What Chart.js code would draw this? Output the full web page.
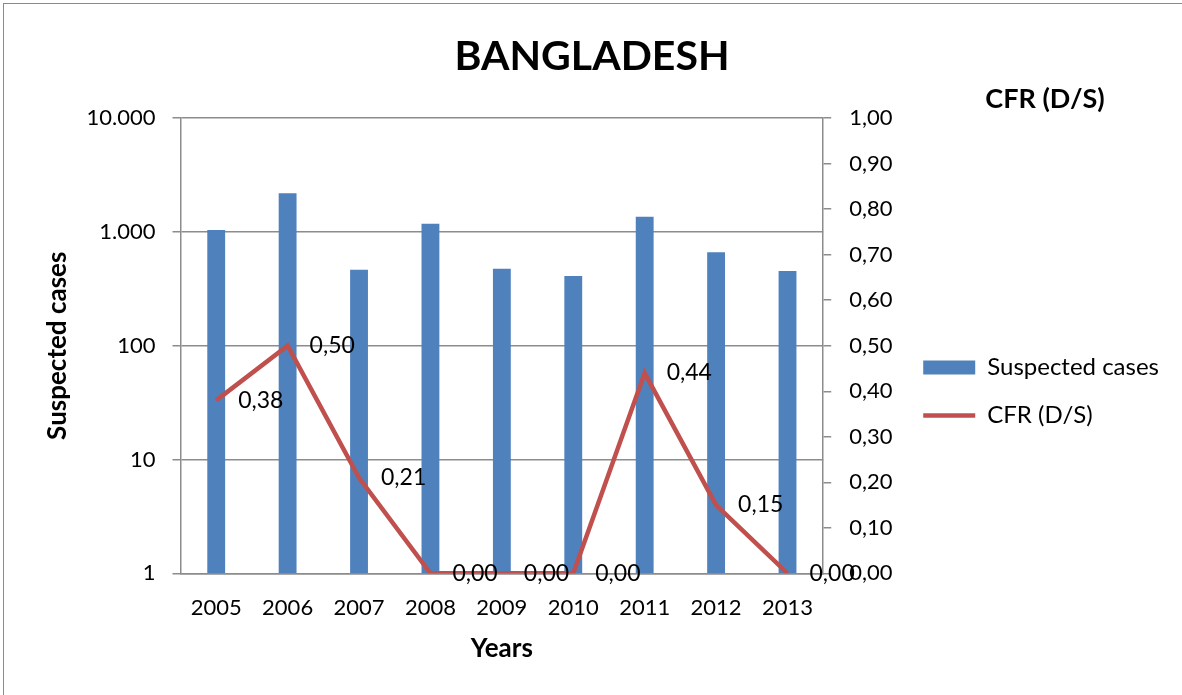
<!DOCTYPE html>
<html>
<head>
<meta charset="utf-8">
<title>Bangladesh</title>
<script src="https://cdn.jsdelivr.net/npm/chart.js@4/dist/chart.umd.min.js"></script>
<style>
    body { margin: 0; background: #fff; overflow: hidden; }
    #frame {
        position: absolute; left: 3px; top: 3px;
        width: 1200px; height: 720px;
        border: 1.5px solid #8a8a8a;
    }
    #chart { position: absolute; left: 0; top: 0; }
</style>
</head>
<body>
<div id="frame"></div>
<canvas id="chart" width="1182" height="695"></canvas>
<script>
const years = ['2005', '2006', '2007', '2008', '2009', '2010', '2011', '2012', '2013'];
const suspectedCases = [1040, 2190, 465, 1180, 475, 410, 1360, 665, 455];
const cfrValues = [0.38, 0.50, 0.21, 0.00, 0.00, 0.00, 0.44, 0.15, 0.00];
const caseTicks = [1, 10, 100, 1000, 10000];

const FONT = 'Lato, "Open Sans", sans-serif';
const GRID = '#8c8c8c';

function formatCases(v) {
    return String(v).replace(/\B(?=(\d{3})+(?!\d))/g, '.');
}

function formatRate(v) {
    return v.toFixed(2).replace('.', ',');
}

// value labels to the right of each CFR point
const pointLabels = {
    id: 'pointLabels',
    afterDatasetsDraw(chart) {
        const ctx = chart.ctx;
        const meta = chart.getDatasetMeta(1);
        ctx.save();
        ctx.font = '23px ' + FONT;
        ctx.fillStyle = '#000';
        ctx.textAlign = 'left';
        ctx.textBaseline = 'middle';
        meta.data.forEach((pt, i) => {
            ctx.fillText(formatRate(cfrValues[i]), pt.x + 22, pt.y);
        });
        ctx.restore();
    }
};

// horizontal caption for the right axis, plus legend nudged down
const rightCaption = {
    id: 'rightCaption',
    afterLayout(chart) {
        chart.legend.top += 44;
        chart.legend.bottom += 44;
    },
    afterDraw(chart) {
        const ctx = chart.ctx;
        ctx.save();
        ctx.font = 'bold 27px ' + FONT;
        ctx.fillStyle = '#000';
        ctx.textAlign = 'center';
        ctx.textBaseline = 'middle';
        ctx.fillText('CFR (D/S)', 1045, 99);
        ctx.restore();
    }
};

new Chart(document.getElementById('chart'), {
    data: {
        labels: years,
        datasets: [{
            type: 'bar',
            label: 'Suspected cases',
            data: suspectedCases,
            yAxisID: 'y',
            backgroundColor: '#4f81bd',
            borderWidth: 0,
            barPercentage: 0.25,
            categoryPercentage: 1,
            pointStyle: 'rect',
            order: 2
        }, {
            type: 'line',
            label: 'CFR (D/S)',
            data: cfrValues,
            yAxisID: 'y1',
            borderColor: '#c0504d',
            backgroundColor: '#c0504d',
            borderWidth: 4.5,
            pointRadius: 0,
            tension: 0,
            pointStyle: 'line',
            order: 1
        }]
    },
    options: {
        responsive: false,
        animation: false,
        layout: { padding: { left: 15, top: 0, right: 13, bottom: 0 } },
        plugins: {
            title: {
                display: true,
                text: 'BANGLADESH',
                color: '#000',
                font: { family: FONT, size: 41, weight: 'bold' },
                padding: { top: 32, bottom: 37 }
            },
            legend: {
                position: 'right',
                maxWidth: 320,
                labels: {
                    usePointStyle: true,
                    pointStyleWidth: 52,
                    boxHeight: 14,
                    padding: 24,
                    color: '#000',
                    font: { family: FONT, size: 24 },
                    sort: (a, b) => a.datasetIndex - b.datasetIndex
                }
            },
            tooltip: { enabled: false }
        },
        scales: {
            x: {
                grid: { display: false },
                border: { display: true, color: GRID, width: 1.5 },
                ticks: {
                    color: '#000',
                    padding: 13,
                    font: { family: FONT, size: 22 }
                },
                title: {
                    display: true,
                    text: 'Years',
                    color: '#000',
                    font: { family: FONT, size: 26, weight: 'bold' },
                    padding: { top: 0, bottom: 31 }
                },
                afterFit(scale) { scale.height = 695 - 573.3; }
            },
            y: {
                type: 'logarithmic',
                position: 'left',
                min: 1,
                max: 10000,
                afterBuildTicks(scale) {
                    scale.ticks = caseTicks.map(v => ({ value: v }));
                },
                ticks: {
                    color: '#000',
                    padding: 17,
                    font: { family: FONT, size: 22 },
                    callback: function(v) { return formatCases(v); }
                },
                grid: { color: GRID, lineWidth: 1.5, tickLength: 8 },
                border: { display: true, color: GRID, width: 1.5 },
                title: {
                    display: true,
                    text: 'Suspected cases',
                    color: '#000',
                    font: { family: FONT, size: 26, weight: 'bold' },
                    padding: { top: 27, bottom: 0 }
                },
                afterFit(scale) { scale.width = 165.5; }
            },
            y1: {
                position: 'right',
                min: 0,
                max: 1,
                ticks: {
                    stepSize: 0.1,
                    color: '#000',
                    padding: 18,
                    font: { family: FONT, size: 22 },
                    callback: function(v) { return formatRate(v); }
                },
                grid: { drawOnChartArea: false, color: GRID, lineWidth: 1.5, tickLength: 8 },
                border: { display: true, color: GRID, width: 1.5 },
                afterFit(scale) { scale.width = 76; }
            }
        }
    },
    plugins: [pointLabels, rightCaption]
});
</script>
</body>
</html>
